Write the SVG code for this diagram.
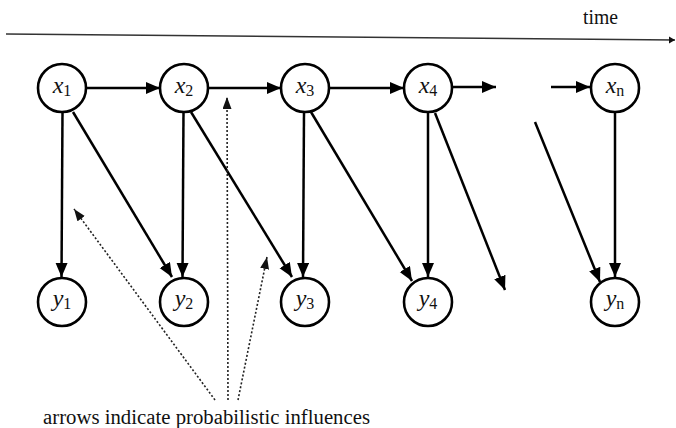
<svg xmlns="http://www.w3.org/2000/svg" width="676" height="428" viewBox="0 0 676 428">
<style>
.node circle{fill:#fff;stroke:#000;stroke-width:2.6}
.lbl{font-size:24px;fill:#111;text-anchor:middle}
.lbl .v{font-style:italic}
.lbl .s{font-size:16px}
.edge{stroke:#000;stroke-width:2.5;fill:none;marker-end:url(#ah)}
.dot{stroke:#222;stroke-width:1.6;stroke-dasharray:2 2;fill:none;marker-end:url(#dh)}
.cap{fill:#111}
</style>
<defs>
<marker id="ah" markerUnits="userSpaceOnUse" markerWidth="15" markerHeight="13" refX="14" refY="6" orient="auto">
<path d="M0,0 L14,6 L0,12 z" fill="#000"/>
</marker>
<marker id="dh" markerUnits="userSpaceOnUse" markerWidth="13" markerHeight="10" refX="12" refY="4.5" orient="auto">
<path d="M0,0 L12,4.5 L0,9 z" fill="#111"/>
</marker>
<marker id="th" markerUnits="userSpaceOnUse" markerWidth="7" markerHeight="8" refX="6" refY="3.5" orient="auto">
<path d="M0,0 L6,3.5 L0,7 z" fill="#111"/>
</marker>
</defs>
<rect width="676" height="428" fill="#fff"/>

<g id="timeline">
<line x1="6" y1="34" x2="675" y2="40" stroke="#333" stroke-width="1.6" marker-end="url(#th)"/>
<text class="cap" font-family="'Liberation Serif', 'DejaVu Serif', serif" x="583" y="24" font-size="20" textLength="35" lengthAdjust="spacingAndGlyphs">time</text>
</g>

<g id="connectors">
<line class="edge" x1="86" y1="88" x2="160" y2="88"/>
<line class="edge" x1="208" y1="88" x2="281" y2="88"/>
<line class="edge" x1="329" y1="88" x2="404" y2="88"/>
<line class="edge" x1="452" y1="87" x2="496" y2="87"/>
<line class="edge" x1="551" y1="87" x2="590" y2="87"/>

<line class="edge" x1="62.5" y1="112" x2="61.5" y2="277"/>
<line class="edge" x1="183.5" y1="112" x2="182.5" y2="277"/>
<line class="edge" x1="304" y1="112" x2="303" y2="277"/>
<line class="edge" x1="428" y1="112" x2="428" y2="277"/>
<line class="edge" x1="615" y1="112" x2="615" y2="277"/>

<line class="edge" x1="73" y1="112" x2="172" y2="277"/>
<line class="edge" x1="191" y1="112" x2="292" y2="277"/>
<line class="edge" x1="311" y1="112" x2="412" y2="281"/>
<line class="edge" x1="435" y1="113" x2="505" y2="290"/>
<line class="edge" x1="535" y1="122" x2="600" y2="282"/>

<line class="dot" x1="215" y1="400" x2="74" y2="209"/>
<line class="dot" x1="228" y1="400" x2="227" y2="97"/>
<line class="dot" x1="238" y1="400" x2="267" y2="257"/>
</g>

<g font-family="'Liberation Serif', 'DejaVu Serif', serif">
<g id="x1" class="node"><circle cx="62" cy="88" r="24"/><text class="lbl" x="62" y="93"><tspan class="v">x</tspan><tspan class="s" dy="3">1</tspan></text></g>
<g id="x2" class="node"><circle cx="184" cy="88" r="24"/><text class="lbl" x="184" y="93"><tspan class="v">x</tspan><tspan class="s" dy="3">2</tspan></text></g>
<g id="x3" class="node"><circle cx="305" cy="88" r="24"/><text class="lbl" x="305" y="93"><tspan class="v">x</tspan><tspan class="s" dy="3">3</tspan></text></g>
<g id="x4" class="node"><circle cx="428" cy="88" r="24"/><text class="lbl" x="428" y="93"><tspan class="v">x</tspan><tspan class="s" dy="3">4</tspan></text></g>
<g id="xn" class="node"><circle cx="615" cy="88" r="24"/><text class="lbl" x="615" y="93"><tspan class="v">x</tspan><tspan class="s" dy="3">n</tspan></text></g>

<g id="y1" class="node"><circle cx="62" cy="302" r="24"/><text class="lbl" x="62" y="306"><tspan class="v">y</tspan><tspan class="s" dy="3">1</tspan></text></g>
<g id="y2" class="node"><circle cx="184" cy="302" r="24"/><text class="lbl" x="184" y="306"><tspan class="v">y</tspan><tspan class="s" dy="3">2</tspan></text></g>
<g id="y3" class="node"><circle cx="305" cy="302" r="24"/><text class="lbl" x="305" y="306"><tspan class="v">y</tspan><tspan class="s" dy="3">3</tspan></text></g>
<g id="y4" class="node"><circle cx="428" cy="302" r="24"/><text class="lbl" x="428" y="306"><tspan class="v">y</tspan><tspan class="s" dy="3">4</tspan></text></g>
<g id="yn" class="node"><circle cx="615" cy="302" r="24"/><text class="lbl" x="615" y="306"><tspan class="v">y</tspan><tspan class="s" dy="3">n</tspan></text></g>
</g>

<g id="caption">
<text class="cap" font-family="'Liberation Serif', 'DejaVu Serif', serif" x="43" y="424" font-size="20.5" textLength="327" lengthAdjust="spacingAndGlyphs">arrows indicate probabilistic influences</text>
</g>
</svg>
